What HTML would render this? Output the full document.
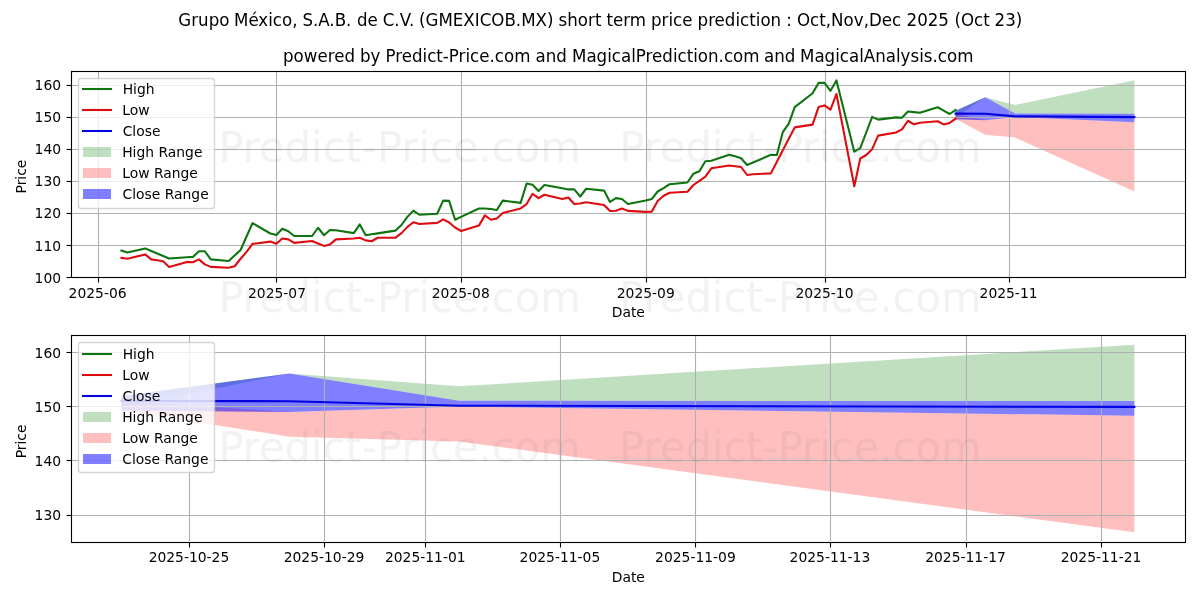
<!DOCTYPE html>
<html lang="es"><head><meta charset="utf-8"><title>Grupo México, S.A.B. de C.V. (GMEXICOB.MX) short term price prediction</title>
<style>html,body{margin:0;padding:0;background:#fff}svg{display:block}text{font-family:'DejaVu Sans','Liberation Sans',sans-serif;fill:#000}.t10{font-size:13.889px}.t12{font-size:17.4px}.wm{font-size:43.3px;fill:#808080;fill-opacity:.104;text-anchor:middle}.sp{stroke:#000;stroke-width:1.111;fill:none;stroke-linecap:square}.gr{stroke:#b0b0b0;stroke-width:1.111}.tk{stroke:#000;stroke-width:1.111}.ln{fill:none;stroke-width:2.083;stroke-linejoin:round;stroke-linecap:square}.m{text-anchor:middle}.e{text-anchor:end}</style></head><body>
<svg width="1200" height="600" viewBox="0 0 1200 600">
<rect width="1200" height="600" fill="#fff"/>
<text class="t12" y="26"><tspan x="178.32" textLength="51.11" lengthAdjust="spacingAndGlyphs">Grupo</tspan> <tspan x="234" textLength="63.5" lengthAdjust="spacingAndGlyphs">México,</tspan> <tspan x="302.4" textLength="49.02" lengthAdjust="spacingAndGlyphs">S.A.B.</tspan> <tspan x="356.88" textLength="20.84" lengthAdjust="spacingAndGlyphs">de</tspan> <tspan x="382.74" textLength="31.49" lengthAdjust="spacingAndGlyphs">C.V.</tspan> <tspan x="419" textLength="134.45" lengthAdjust="spacingAndGlyphs">(GMEXICOB.MX)</tspan> <tspan x="558.6" textLength="42.83" lengthAdjust="spacingAndGlyphs">short</tspan> <tspan x="606.39" textLength="39.58" lengthAdjust="spacingAndGlyphs">term</tspan> <tspan x="651" textLength="41.48" lengthAdjust="spacingAndGlyphs">price</tspan> <tspan x="697.56" textLength="83.62" lengthAdjust="spacingAndGlyphs">prediction</tspan> <tspan x="786.21" textLength="5.61" lengthAdjust="spacingAndGlyphs">:</tspan> <tspan x="797" textLength="104.2" lengthAdjust="spacingAndGlyphs">Oct,Nov,Dec</tspan> <tspan x="906.57" textLength="42.42" lengthAdjust="spacingAndGlyphs">2025</tspan> <tspan x="954.39" textLength="35.32" lengthAdjust="spacingAndGlyphs">(Oct</tspan> <tspan x="994.57" textLength="27.71" lengthAdjust="spacingAndGlyphs">23)</tspan></text>
<text class="t12" y="62"><tspan x="283" textLength="71.99" lengthAdjust="spacingAndGlyphs">powered</tspan> <tspan x="360" textLength="20.45" lengthAdjust="spacingAndGlyphs">by</tspan> <tspan x="385.43" textLength="144.97" lengthAdjust="spacingAndGlyphs">Predict-Price.com</tspan> <tspan x="535.58" textLength="31.36" lengthAdjust="spacingAndGlyphs">and</tspan> <tspan x="572" textLength="187.51" lengthAdjust="spacingAndGlyphs">MagicalPrediction.com</tspan> <tspan x="764" textLength="31.36" lengthAdjust="spacingAndGlyphs">and</tspan> <tspan x="800" textLength="173.38" lengthAdjust="spacingAndGlyphs">MagicalAnalysis.com</tspan></text>
<clipPath id="ca"><rect x="70.78" y="70.83" width="1114.22" height="206.31"/></clipPath>
<g clip-path="url(#ca)">
<polygon points="955.6,110.73 985.39,97.28 1015.19,104.92 1134.35,80.33 1134.35,113.63 1015.19,113.51 985.39,97.28 955.6,117.48" fill="#008000" fill-opacity="0.25"/>
<polygon points="955.6,113.45 985.39,120.15 1015.19,116.95 1134.35,122.34 1134.35,191.44 1015.19,137.62 985.39,134.78 955.6,119.08" fill="#ff0000" fill-opacity="0.25"/>
<polygon points="955.6,110.73 985.39,97.28 1015.19,113.51 1134.35,113.63 1134.35,122.34 1015.19,116.95 985.39,120.15 955.6,119.2" fill="#0000ff" fill-opacity="0.5"/>
<line class="gr" x1="98.5" x2="98.5" y1="70.83" y2="277.14"/>
<line class="gr" x1="276.5" x2="276.5" y1="70.83" y2="277.14"/>
<line class="gr" x1="461.5" x2="461.5" y1="70.83" y2="277.14"/>
<line class="gr" x1="646.5" x2="646.5" y1="70.83" y2="277.14"/>
<line class="gr" x1="825.5" x2="825.5" y1="70.83" y2="277.14"/>
<line class="gr" x1="1009.5" x2="1009.5" y1="70.83" y2="277.14"/>
<line class="gr" x1="70.78" x2="1185" y1="277.5" y2="277.5"/>
<line class="gr" x1="70.78" x2="1185" y1="245.5" y2="245.5"/>
<line class="gr" x1="70.78" x2="1185" y1="213.5" y2="213.5"/>
<line class="gr" x1="70.78" x2="1185" y1="181.5" y2="181.5"/>
<line class="gr" x1="70.78" x2="1185" y1="149.5" y2="149.5"/>
<line class="gr" x1="70.78" x2="1185" y1="117.5" y2="117.5"/>
<line class="gr" x1="70.78" x2="1185" y1="85.5" y2="85.5"/>
<polyline class="ln" stroke="#0e740f" points="121.43,250.6 127.38,252.5 145.26,248.4 151.22,251 157.18,253.5 163.14,256 169.09,258.5 186.97,257.25 192.93,256.9 198.89,251.25 204.84,251.25 210.8,259.4 228.68,261 234.64,255.6 240.59,250 246.55,236.5 252.51,223.1 270.39,233.5 276.34,235 282.3,228.75 288.26,231.25 294.22,236 312.1,236 318.05,227.75 324.01,235.25 329.97,230 335.93,230.25 353.8,233.1 359.76,224.4 365.72,235.25 371.68,234.3 377.64,233.4 395.51,230.6 401.47,225 407.43,216.9 413.39,210.6 419.35,214.75 437.22,213.75 443.18,200.6 449.14,200.9 455.1,219.75 461.05,216.9 478.93,208.5 484.89,208.5 490.85,209 496.81,210 502.76,200.6 520.64,202.9 526.6,183.5 532.56,184.75 538.51,191 544.47,185 562.35,188.25 568.31,189.4 574.26,189.4 580.22,196.5 586.18,188.75 604.06,190.6 610.01,201.9 615.97,198.1 621.93,199 627.89,204 645.77,200.6 651.72,199.1 657.68,191.5 663.64,188.2 669.6,184.2 687.47,182.5 693.43,173.7 699.39,171.2 705.35,161.3 711.31,160.8 729.18,154.7 735.14,156.2 741.1,158.3 747.06,165 753.02,162.5 770.89,154.8 776.85,155 782.81,132.1 788.77,123.6 794.73,107.1 812.6,93.3 818.56,82.9 824.52,82.9 830.48,90.8 836.43,80.4 854.31,151.7 860.27,148.1 866.23,132.5 872.18,116.9 878.14,119.6 896.02,117.4 901.98,117.8 907.93,111.5 913.89,112.1 919.85,112.8 937.73,107.25 943.68,110.6 949.64,114 955.6,110"/>
<polyline class="ln" stroke="#de0c10" points="121.43,257.9 127.38,258.75 145.26,254.4 151.22,259.4 157.18,260.25 163.14,261.25 169.09,266.9 186.97,261.9 192.93,262.25 198.89,259.4 204.84,264.4 210.8,266.9 228.68,267.75 234.64,266.25 240.59,258.75 246.55,251.9 252.51,243.9 270.39,241.6 276.34,243.75 282.3,238.5 288.26,239.4 294.22,242.9 312.1,241 318.05,243.5 324.01,245.9 329.97,244.4 335.93,239.4 353.8,238.5 359.76,237.75 365.72,240.4 371.68,241.25 377.64,237.75 395.51,237.6 401.47,233.1 407.43,226.9 413.39,222.25 419.35,224 437.22,222.9 443.18,219.4 449.14,222.5 455.1,227.5 461.05,231 478.93,225.6 484.89,215.4 490.85,219.75 496.81,218.5 502.76,213.1 520.64,208.4 526.6,204.1 532.56,193.75 538.51,198.1 544.47,194.75 562.35,199 568.31,197.5 574.26,204 580.22,203.5 586.18,202.25 604.06,205 610.01,211 615.97,210.75 621.93,208.5 627.89,210.9 645.77,211.9 651.72,211.8 657.68,201 663.64,195.7 669.6,192.8 687.47,191.7 693.43,185 699.39,180.8 705.35,176.7 711.31,168.3 729.18,165.5 735.14,166.2 741.1,167 747.06,175 753.02,174.2 770.89,173.4 776.85,161.7 782.81,150.2 788.77,138.75 794.73,127.4 812.6,124.6 818.56,107.1 824.52,105.4 830.48,109.6 836.43,94 854.31,186.25 860.27,158.5 866.23,155 872.18,149.2 878.14,135.6 896.02,132.5 901.98,129.4 907.93,120.75 913.89,124.3 919.85,122.7 937.73,121.25 943.68,124.4 949.64,122.9 955.6,118.75"/>
<polyline class="ln" stroke="#0304e0" points="955.6,113.63 985.39,113.75 1015.19,116.41 1134.35,117.12"/>
</g>
<line class="tk" x1="98.5" x2="98.5" y1="277.5" y2="282.5"/>
<text class="t10 m" x="97.59" y="298">2025-06</text>
<line class="tk" x1="276.5" x2="276.5" y1="277.5" y2="282.5"/>
<text class="t10 m" x="276.98" y="298">2025-07</text>
<line class="tk" x1="461.5" x2="461.5" y1="277.5" y2="282.5"/>
<text class="t10 m" x="460.73" y="298">2025-08</text>
<line class="tk" x1="646.5" x2="646.5" y1="277.5" y2="282.5"/>
<text class="t10 m" x="645.77" y="298">2025-09</text>
<line class="tk" x1="825.5" x2="825.5" y1="277.5" y2="282.5"/>
<text class="t10 m" x="824.53" y="298">2025-10</text>
<line class="tk" x1="1009.5" x2="1009.5" y1="277.5" y2="282.5"/>
<text class="t10 m" x="1008.56" y="298">2025-11</text>
<line class="tk" x1="66.5" x2="71.5" y1="277.5" y2="277.5"/>
<text class="t10 e" x="61.06" y="283">100</text>
<line class="tk" x1="66.5" x2="71.5" y1="245.5" y2="245.5"/>
<text class="t10 e" x="61.06" y="251">110</text>
<line class="tk" x1="66.5" x2="71.5" y1="213.5" y2="213.5"/>
<text class="t10 e" x="61.06" y="218">120</text>
<line class="tk" x1="66.5" x2="71.5" y1="181.5" y2="181.5"/>
<text class="t10 e" x="61.06" y="186">130</text>
<line class="tk" x1="66.5" x2="71.5" y1="149.5" y2="149.5"/>
<text class="t10 e" x="61.06" y="154">140</text>
<line class="tk" x1="66.5" x2="71.5" y1="117.5" y2="117.5"/>
<text class="t10 e" x="61.06" y="122">150</text>
<line class="tk" x1="66.5" x2="71.5" y1="85.5" y2="85.5"/>
<text class="t10 e" x="61.06" y="90">160</text>
<rect class="sp" x="71.5" y="71.5" width="1114" height="206"/>
<text class="t10 m" x="628.33" y="317">Date</text>
<text class="t10 m" transform="translate(26 176.55) rotate(-90)">Price</text>
<rect x="78.5" y="78.5" width="136" height="130" rx="2.78" fill="#fff" fill-opacity=".8" stroke="#ccc" stroke-opacity=".8" stroke-width="1.389"/>
<line x1="83.04" x2="110.96" y1="89" y2="89" stroke="#0e740f" stroke-width="2.083" stroke-linecap="square"/>
<text class="t10" x="122.68" y="94">High</text>
<line x1="83.04" x2="110.96" y1="110" y2="110" stroke="#de0c10" stroke-width="2.083" stroke-linecap="square"/>
<text class="t10" x="122.17" y="115">Low</text>
<line x1="83.04" x2="110.96" y1="131" y2="131" stroke="#0304e0" stroke-width="2.083" stroke-linecap="square"/>
<text class="t10" x="122.65" y="136">Close</text>
<rect x="83" y="147" width="28" height="10" fill="#008000" fill-opacity="0.25"/>
<text class="t10" x="122.17" y="157">High Range</text>
<rect x="83" y="168" width="28" height="10" fill="#ff0000" fill-opacity="0.25"/>
<text class="t10" x="122.17" y="178">Low Range</text>
<rect x="83" y="189" width="28" height="10" fill="#0000ff" fill-opacity="0.5"/>
<text class="t10" x="122.52" y="199">Close Range</text>
<clipPath id="cb"><rect x="70.78" y="335.42" width="1114.22" height="206.3"/></clipPath>
<g clip-path="url(#cb)">
<polygon points="121.43,396.1 289.4,373.4 459.07,386.3 1134.35,344.8 1134.35,401 459.07,400.8 289.4,373.4 121.43,407.5" fill="#008000" fill-opacity="0.25"/>
<polygon points="121.43,400.7 289.4,412 459.07,406.6 1134.35,415.7 1134.35,532.34 459.07,441.5 289.4,436.7 121.43,410.2" fill="#ff0000" fill-opacity="0.25"/>
<polygon points="121.43,396.1 289.4,373.4 459.07,400.8 1134.35,401 1134.35,415.7 459.07,406.6 289.4,412 121.43,410.4" fill="#0000ff" fill-opacity="0.5"/>
<line class="gr" x1="189.5" x2="189.5" y1="335.42" y2="541.72"/>
<line class="gr" x1="324.5" x2="324.5" y1="335.42" y2="541.72"/>
<line class="gr" x1="425.5" x2="425.5" y1="335.42" y2="541.72"/>
<line class="gr" x1="560.5" x2="560.5" y1="335.42" y2="541.72"/>
<line class="gr" x1="695.5" x2="695.5" y1="335.42" y2="541.72"/>
<line class="gr" x1="830.5" x2="830.5" y1="335.42" y2="541.72"/>
<line class="gr" x1="966.5" x2="966.5" y1="335.42" y2="541.72"/>
<line class="gr" x1="1101.5" x2="1101.5" y1="335.42" y2="541.72"/>
<line class="gr" x1="70.78" x2="1185" y1="515.5" y2="515.5"/>
<line class="gr" x1="70.78" x2="1185" y1="460.5" y2="460.5"/>
<line class="gr" x1="70.78" x2="1185" y1="406.5" y2="406.5"/>
<line class="gr" x1="70.78" x2="1185" y1="352.5" y2="352.5"/>
<polyline class="ln" stroke="#0304e0" points="121.43,401 289.4,401.2 459.07,405.7 1134.35,406.9"/>
</g>
<line class="tk" x1="189.5" x2="189.5" y1="542.5" y2="547.5"/>
<text class="t10 m" x="188.95" y="562">2025-10-25</text>
<line class="tk" x1="324.5" x2="324.5" y1="542.5" y2="547.5"/>
<text class="t10 m" x="324.01" y="562">2025-10-29</text>
<line class="tk" x1="425.5" x2="425.5" y1="542.5" y2="547.5"/>
<text class="t10 m" x="425.3" y="562">2025-11-01</text>
<line class="tk" x1="560.5" x2="560.5" y1="542.5" y2="547.5"/>
<text class="t10 m" x="559.93" y="562">2025-11-05</text>
<line class="tk" x1="695.5" x2="695.5" y1="542.5" y2="547.5"/>
<text class="t10 m" x="695.42" y="562">2025-11-09</text>
<line class="tk" x1="830.5" x2="830.5" y1="542.5" y2="547.5"/>
<text class="t10 m" x="829.93" y="562">2025-11-13</text>
<line class="tk" x1="966.5" x2="966.5" y1="542.5" y2="547.5"/>
<text class="t10 m" x="965.53" y="562">2025-11-17</text>
<line class="tk" x1="1101.5" x2="1101.5" y1="542.5" y2="547.5"/>
<text class="t10 m" x="1101" y="562">2025-11-21</text>
<line class="tk" x1="66.5" x2="71.5" y1="515.5" y2="515.5"/>
<text class="t10 e" x="61.06" y="520">130</text>
<line class="tk" x1="66.5" x2="71.5" y1="460.5" y2="460.5"/>
<text class="t10 e" x="61.06" y="466">140</text>
<line class="tk" x1="66.5" x2="71.5" y1="406.5" y2="406.5"/>
<text class="t10 e" x="61.06" y="412">150</text>
<line class="tk" x1="66.5" x2="71.5" y1="352.5" y2="352.5"/>
<text class="t10 e" x="61.06" y="358">160</text>
<rect class="sp" x="71.5" y="335.5" width="1114" height="207"/>
<text class="t10 m" x="628.32" y="582">Date</text>
<text class="t10 m" transform="translate(26 441.45) rotate(-90)">Price</text>
<rect x="78.5" y="342.5" width="136" height="130" rx="2.78" fill="#fff" fill-opacity=".8" stroke="#ccc" stroke-opacity=".8" stroke-width="1.389"/>
<line x1="83.04" x2="110.96" y1="354" y2="354" stroke="#0e740f" stroke-width="2.083" stroke-linecap="square"/>
<text class="t10" x="122.66" y="359">High</text>
<line x1="83.04" x2="110.96" y1="375" y2="375" stroke="#de0c10" stroke-width="2.083" stroke-linecap="square"/>
<text class="t10" x="122.17" y="380">Low</text>
<line x1="83.04" x2="110.96" y1="396" y2="396" stroke="#0304e0" stroke-width="2.083" stroke-linecap="square"/>
<text class="t10" x="122.5" y="401">Close</text>
<rect x="83" y="412" width="28" height="10" fill="#008000" fill-opacity="0.25"/>
<text class="t10" x="122.17" y="422">High Range</text>
<rect x="83" y="433" width="28" height="10" fill="#ff0000" fill-opacity="0.25"/>
<text class="t10" x="122.17" y="443">Low Range</text>
<rect x="83" y="454" width="28" height="10" fill="#0000ff" fill-opacity="0.5"/>
<text class="t10" x="122.24" y="464">Close Range</text>
<text class="wm" x="399.6" y="162" textLength="362.43" lengthAdjust="spacingAndGlyphs">Predict-Price.com</text>
<text class="wm" x="399.6" y="312" textLength="362.43" lengthAdjust="spacingAndGlyphs">Predict-Price.com</text>
<text class="wm" x="399.6" y="462" textLength="362.43" lengthAdjust="spacingAndGlyphs">Predict-Price.com</text>
<text class="wm" x="800.4" y="162" textLength="362.43" lengthAdjust="spacingAndGlyphs">Predict-Price.com</text>
<text class="wm" x="800.4" y="312" textLength="362.43" lengthAdjust="spacingAndGlyphs">Predict-Price.com</text>
<text class="wm" x="800.4" y="462" textLength="362.43" lengthAdjust="spacingAndGlyphs">Predict-Price.com</text>
</svg></body></html>
